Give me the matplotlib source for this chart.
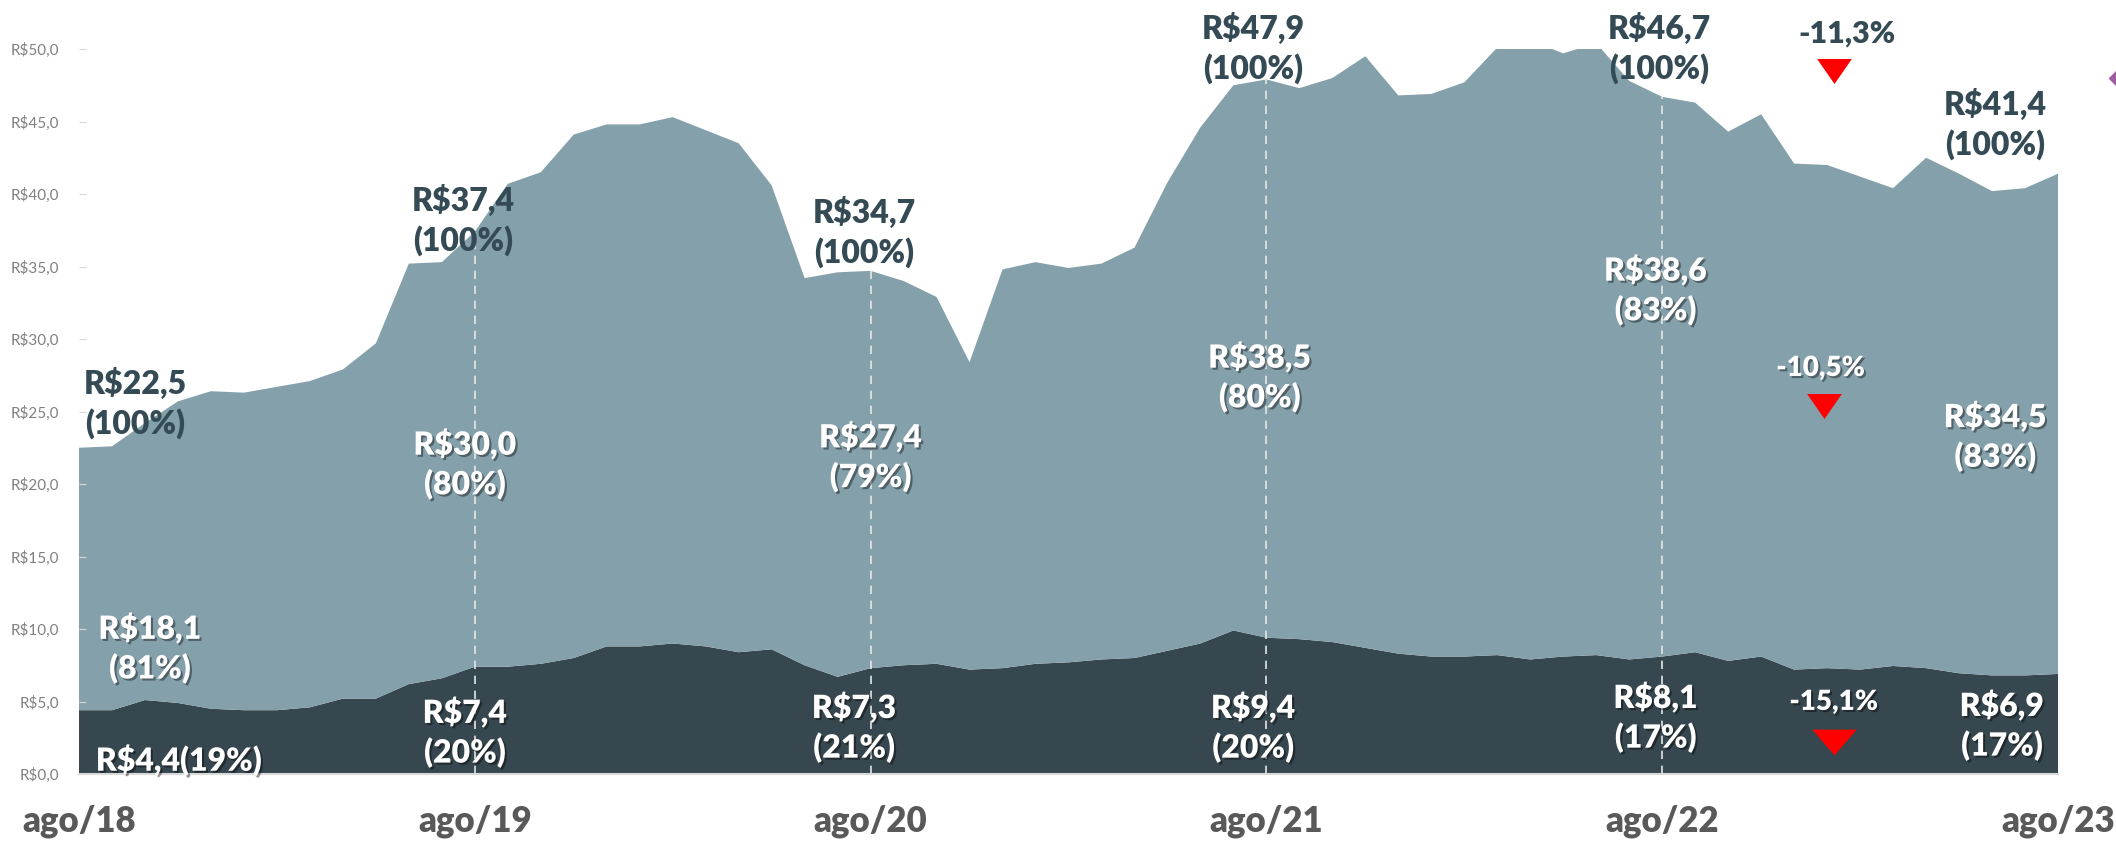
import matplotlib
matplotlib.use("Agg")
import matplotlib.pyplot as plt
import matplotlib.patheffects as pe
import numpy as np

plt.rcParams['font.family'] = ['Lato', 'DejaVu Sans']

# monthly values, ago/18 .. ago/23
total = [22.5, 22.6, 24.2, 25.7, 26.4, 26.3, 26.7, 27.1, 27.9, 29.7,
         35.2, 35.3, 37.4, 40.7, 41.5, 44.1, 44.8, 44.8, 45.3, 44.4,
         43.5, 40.6, 34.2, 34.6, 34.7, 34.0, 32.9, 28.4, 34.8, 35.3,
         34.9, 35.2, 36.3, 40.8, 44.6, 47.5, 47.9, 47.3, 48.0, 49.5,
         46.8, 46.9, 47.7, 50.1, 50.6, 49.7, 50.4, 47.8, 46.7, 46.3,
         44.3, 45.5, 42.1, 42.0, 41.2, 40.4, 42.5, 41.4, 40.2, 40.4, 41.4]
bottom = [4.4, 4.4, 5.1, 4.9, 4.5, 4.4, 4.4, 4.6, 5.2, 5.2,
          6.2, 6.6, 7.4, 7.4, 7.6, 8.0, 8.8, 8.8, 9.0, 8.8,
          8.4, 8.6, 7.5, 6.7, 7.3, 7.5, 7.6, 7.2, 7.3, 7.6,
          7.7, 7.9, 8.0, 8.5, 9.0, 9.9, 9.4, 9.3, 9.1, 8.7,
          8.3, 8.1, 8.1, 8.2, 7.9, 8.1, 8.2, 7.9, 8.1, 8.4,
          7.8, 8.1, 7.2, 7.3, 7.2, 7.45, 7.3, 6.95, 6.8, 6.8, 6.9]
tick_idx = [0, 12, 24, 36, 48, 60]
tick_labels = ['ago/18', 'ago/19', 'ago/20', 'ago/21', 'ago/22', 'ago/23']

# label texts with their spots
labels_top = [(1.7, 25.6, 'R$22,5\n(100%)'), (11.64, 38.2, 'R$37,4\n(100%)'),
              (23.8, 37.4, 'R$34,7\n(100%)'), (35.6, 50.1, 'R$47,9\n(100%)'),
              (47.9, 50.1, 'R$46,7\n(100%)'), (58.1, 44.8, 'R$41,4\n(100%)')]
labels_mid = [(2.15, 8.7, 'R$18,1\n(81%)'), (11.7, 21.4, 'R$30,0\n(80%)'),
              (24.0, 21.9, 'R$27,4\n(79%)'), (35.8, 27.4, 'R$38,5\n(80%)'),
              (47.8, 33.4, 'R$38,6\n(83%)'), (58.1, 23.3, 'R$34,5\n(83%)')]
labels_low = [(3.03, 0.97, 'R$4,4(19%)'), (11.7, 2.9, 'R$7,4\n(20%)'),
              (23.5, 3.24, 'R$7,3\n(21%)'), (35.6, 3.24, 'R$9,4\n(20%)'),
              (47.8, 3.93, 'R$8,1\n(17%)'), (58.3, 3.38, 'R$6,9\n(17%)')]

x = np.arange(len(total))
top_part = np.array(total) - np.array(bottom)

dark = '#37474F'
light = '#84A0AA'
txt_dark = '#344A54'
W = 'heavy'

fig = plt.figure(figsize=(21.16, 8.41), dpi=100)
ax = fig.add_axes([79 / 2116, 67 / 841, (2058 - 79) / 2116, (774 - 49) / 841])
ax.stackplot(x, bottom, top_part, colors=[dark, light], linewidth=0)
ax.set_xlim(0, 60)
ax.set_ylim(0, 50)

for i in tick_idx[1:-1]:
    ax.vlines(i, 0, total[i], colors='#e6e6e6', linestyles=(0, (5, 4)), linewidth=1.2)

yt = np.arange(0, 51, 5)
ax.set_yticks(yt)
ax.set_yticklabels([('R$%.1f' % v).replace('.', ',') for v in yt], fontsize=11, color='#808080')
ax.tick_params(axis='y', direction='in', length=5, color='#d9d9d9', pad=14)
ax.set_xticks(tick_idx)
ax.set_xticklabels(tick_labels, fontsize=25, fontweight=W, color='#595959')
ax.tick_params(axis='x', length=0, pad=22)
for s in ['top', 'right', 'left']:
    ax.spines[s].set_visible(False)
ax.spines['bottom'].set_color('#d9d9d9')
ax.spines['bottom'].set_linewidth(1.5)

shadow = [pe.SimplePatchShadow(offset=(1.5, -1.5), shadow_rgbFace='black', alpha=0.4), pe.Normal()]

for lx, ly, t in labels_top:
    ax.text(lx, ly, t, ha='center', va='center', fontsize=23, fontweight=W,
            color=txt_dark, linespacing=1.35, clip_on=False)
for lx, ly, t in labels_mid + labels_low:
    ax.text(lx, ly, t, ha='center', va='center', fontsize=23, fontweight=W,
            color='white', linespacing=1.35, path_effects=shadow)

ax.text(53.6, 51.1, '-11,3%', ha='center', va='center', fontsize=22, fontweight=W,
        color=txt_dark, clip_on=False)
ax.text(52.8, 28.0, '-10,5%', ha='center', va='center', fontsize=20, fontweight=W,
        color='white', path_effects=shadow)
ax.text(53.2, 4.97, '-15,1%', ha='center', va='center', fontsize=20, fontweight=W,
        color='white', path_effects=shadow)

tri = [(-1, 0.72), (1, 0.72), (0, -0.72)]
tri_wide = [(-1, 0.58), (1, 0.58), (0, -0.58)]
ax.plot([53.2], [48.5], marker=tri, ms=25, color='#FF0000', mec='none', clip_on=False)
ax.plot([52.9], [25.4], marker=tri, ms=25, color='#FF0000', mec='none')
ax.plot([53.2], [2.2], marker=tri_wide, ms=32, color='#FF0000', mec='none')

# small purple marker cut at the right edge
fig.lines.append(plt.Line2D([2119 / 2116], [(841 - 78) / 841], marker='D', ms=10,
                            color='#A05CA0', transform=fig.transFigure))

fig.savefig('out.png', dpi=100)
